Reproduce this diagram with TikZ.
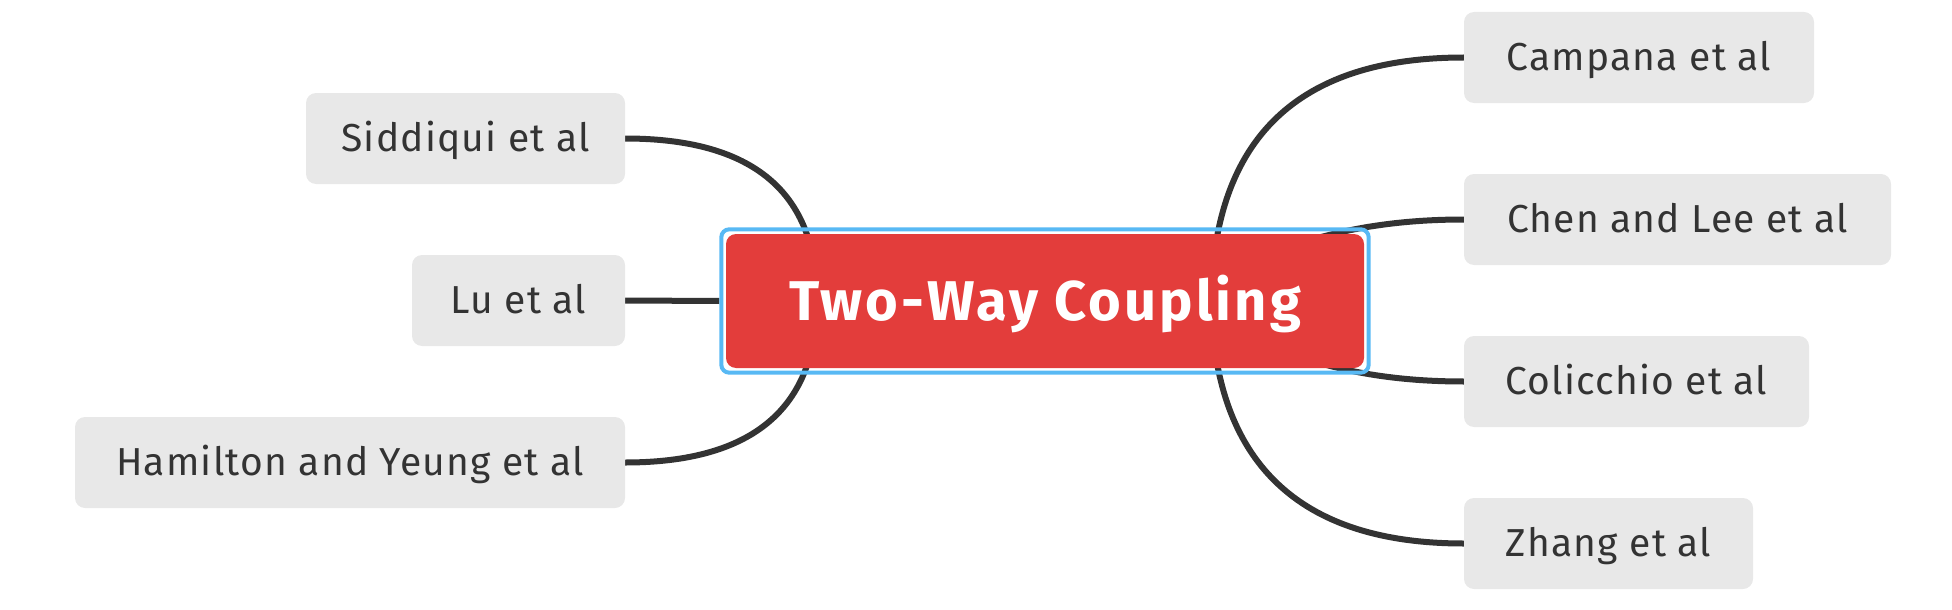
\documentclass[tikz,border=0pt]{standalone}
\usepackage{fontspec}
\setmainfont{Fira Sans}
\newfontfamily\leaffont{Fira Sans}[LetterSpace=3]
\newfontfamily\hubfont{Fira Sans}[LetterSpace=5.5]
\usetikzlibrary{fit}
\definecolor{hubred}{HTML}{E33D3B}
\definecolor{selblue}{HTML}{58B9F4}
\definecolor{leafgray}{HTML}{E8E8E8}
\definecolor{ink}{HTML}{333333}
\pgfdeclarelayer{lines}
\pgfsetlayers{lines,main}
\begin{document}
\begin{tikzpicture}[x=1pt,y=-1pt,
  leaf/.style={fill=leafgray, rounded corners=10pt, minimum height=91pt, inner sep=0pt,
    text=ink, font=\leaffont\fontsize{39}{47}\selectfont, text height=26.9pt, text depth=0pt},
  hubbox/.style={fill=hubred, rounded corners=10pt, minimum width=638pt, minimum height=134pt,
    inner sep=0pt, text=white, font=\hubfont\fontsize{56}{66}\selectfont\bfseries, text height=38.6pt, text depth=0pt},
  selbox/.style={draw=selblue, line width=4pt, rounded corners=8pt, inner sep=4.5pt},
  link/.style={draw=ink, line width=6pt}]
\useasboundingbox (0,0) rectangle (1952,610);
% central topic
\node[hubbox] (hub) at (1045,301) {Two-Way Coupling};
\node[selbox, fit=(hub)] (sel) {};
% leaves left
\node[leaf, minimum width=319pt] (sid) at (465.5,138.5) {Siddiqui et al};
\node[leaf, minimum width=213pt] (lu)  at (518.5,300.5) {Lu et al};
\node[leaf, minimum width=550pt] (ham) at (350,462.5) {Hamilton and Yeung et al};
% leaves right
\node[leaf, minimum width=350pt] (camp) at (1639,57.5)   {Campana et al};
\node[leaf, minimum width=427pt] (chen) at (1677.5,219.5) {Chen and Lee et al};
\node[leaf, minimum width=345pt] (coli) at (1636.5,381.5) {Colicchio et al};
\node[leaf, minimum width=289pt] (zh)   at (1608.5,543.5) {Zhang et al};
% hidden branch origins inside the central topic
\coordinate (hubL) at (817,300);
\coordinate (hubR) at (1211,300);
\coordinate (hubRU) at (1280,250);
\coordinate (hubRD) at (1280,350);
\begin{pgfonlayer}{lines}
\draw[link] (sid.east) .. controls (753,138.5) and (817,192) .. (hubL);
\draw[link] (ham.east) .. controls (753,462.5) and (817,408) .. (hubL);
\draw[link] (lu.east) -- (sel.west);
\draw[link] (camp.west) .. controls (1298,57.5) and (1214,138) .. (hubR);
\draw[link] (zh.west) .. controls (1298,543.5) and (1214,462) .. (hubR);
\draw[link] (chen.west) .. controls (1400,219.5) and (1340,228) .. (hubRU);
\draw[link] (coli.west) .. controls (1400,381.5) and (1340,373) .. (hubRD);
\end{pgfonlayer}
\end{tikzpicture}
\end{document}
